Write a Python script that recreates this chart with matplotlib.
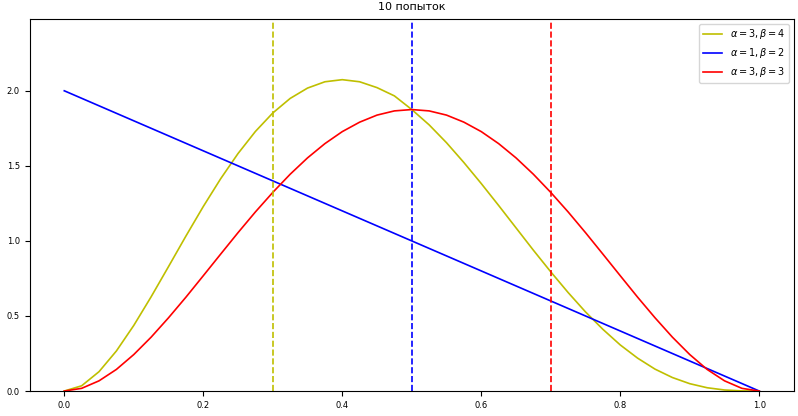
import matplotlib.pyplot as plt

# values (every 0.025)
xs = [i / 40 for i in range(41)]
y_a3b4 = [0.0, 0.035, 0.129, 0.267, 0.437, 0.628, 0.829, 1.032, 1.229, 1.414,
          1.582, 1.729, 1.852, 1.949, 2.018, 2.060, 2.074, 2.060, 2.021, 1.966,
          1.875, 1.773, 1.654, 1.522, 1.382, 1.236, 1.087, 0.938, 0.794, 0.656,
          0.527, 0.411, 0.307, 0.219, 0.146, 0.090, 0.049, 0.022, 0.007, 0.001, 0.0]
y_a3b3 = [0.0, 0.018, 0.068, 0.144, 0.243, 0.359, 0.488, 0.625, 0.768, 0.912,
          1.055, 1.193, 1.323, 1.444, 1.553, 1.648, 1.728, 1.791, 1.838, 1.866,
          1.875, 1.866, 1.838, 1.791, 1.728, 1.648, 1.553, 1.444, 1.323, 1.193,
          1.055, 0.912, 0.768, 0.625, 0.488, 0.359, 0.243, 0.144, 0.068, 0.018, 0.0]
x_line = [0.0, 1.0]
y_a1b2 = [2.0, 0.0]
vlines = [0.3, 0.5, 0.7]
colors = ['y', 'b', 'r']

fig, ax = plt.subplots(figsize=(7.98, 4.16), dpi=100)
ax.plot(xs, y_a3b4, color='y', lw=1.2, label=r'$\alpha=3, \beta=4$')
ax.plot(x_line, y_a1b2, color='b', lw=1.2, label=r'$\alpha=1, \beta=2$')
ax.plot(xs, y_a3b3, color='r', lw=1.2, label=r'$\alpha=3, \beta=3$')
for v, c in zip(vlines, colors):
    ax.axvline(v, color=c, ls='--', lw=1.2)
ax.set_ylim(0, 2.48)
ax.set_title('10 попыток', fontsize=8)
ax.tick_params(labelsize=6)
ax.legend(fontsize=7, loc='upper right')
plt.subplots_adjust(left=0.037, right=0.995, bottom=0.06, top=0.955)
plt.savefig('out.png')
